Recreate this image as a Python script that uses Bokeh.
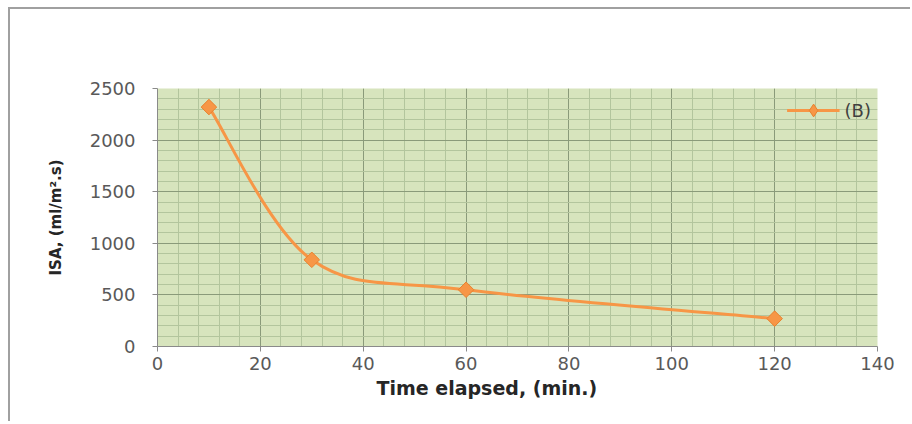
import numpy as np
from bokeh.plotting import figure
from bokeh.models import (Range1d, SingleIntervalTicker, Legend, LegendItem, Title)
from bokeh.embed import file_html
from bokeh.resources import INLINE

# data
time_min = [10, 30, 60, 120]
isa = [2320, 840, 550, 270]
series_name = "(B)"
x_title = "Time elapsed, (min.)"
y_title = "ISA, (ml/m\u00b2.s)"

W, H = 902, 414
p = figure(width=W, height=H, output_backend="svg", toolbar_location=None,
           x_range=Range1d(0, 140), y_range=Range1d(0, 2500),
           min_border_left=147, min_border_right=35, min_border_top=79,
           min_border_bottom=77, background_fill_color="#d7e4bd",
           border_fill_color="white", outline_line_color=None)
p.styles = {"margin-left": "8px", "margin-top": "7px",
            "border-left": "2px solid #a0a0a0", "border-top": "2px solid #a0a0a0"}

p.xaxis.ticker = SingleIntervalTicker(interval=20, num_minor_ticks=5)
p.yaxis.ticker = SingleIntervalTicker(interval=500, num_minor_ticks=5)

for ax in (p.xaxis[0], p.yaxis[0]):
    ax.axis_line_color = "#8a8a8a"
    ax.major_tick_line_color = "#8a8a8a"
    ax.major_tick_out = 5
    ax.major_tick_in = 0
    ax.minor_tick_out = 0
    ax.minor_tick_in = 0
    ax.major_label_text_font = "DejaVu Sans"
    ax.major_label_text_font_size = "18px"
    ax.major_label_text_color = "#595959"
p.xaxis.major_label_standoff = 5
p.yaxis.major_label_standoff = 17

p.yaxis.axis_label = y_title
p.yaxis.axis_label_text_font = "DejaVu Sans"
p.yaxis.axis_label_text_font_size = "15px"
p.yaxis.axis_label_text_font_style = "bold"
p.yaxis.axis_label_text_color = "#262626"
p.yaxis.axis_label_standoff = 22

p.grid.grid_line_color = "#8a9a7a"
p.grid.grid_line_width = 1
p.grid.minor_grid_line_color = "#b3c59d"
p.grid.minor_grid_line_width = 1

# smoothed line through the points (Catmull-Rom style Bezier control points)
xs = np.array(time_min, dtype=float)
ys = np.array(isa, dtype=float)
n = len(xs)
t = 1.0 / 6.0
x0, y0, x1, y1, cx0, cy0, cx1, cy1 = [], [], [], [], [], [], [], []
for i in range(n - 1):
    im = max(i - 1, 0)
    ip2 = min(i + 2, n - 1)
    x0.append(xs[i]); y0.append(ys[i])
    x1.append(xs[i + 1]); y1.append(ys[i + 1])
    cx0.append(xs[i] + (xs[i + 1] - xs[im]) * t)
    cy0.append(ys[i] + (ys[i + 1] - ys[im]) * t)
    cx1.append(xs[i + 1] - (xs[ip2] - xs[i]) * t)
    cy1.append(ys[i + 1] - (ys[ip2] - ys[i]) * t)

orange = "#f79646"
p.bezier(x0=x0, y0=y0, x1=x1, y1=y1, cx0=cx0, cy0=cy0, cx1=cx1, cy1=cy1,
         line_color=orange, line_width=3)
pts = p.scatter(time_min, isa, marker="square", angle=np.pi / 4, size=11,
                fill_color=orange, line_color="#e8822e", line_width=1)

# legend-only renderers (no visible data)
leg_line = p.line([np.nan], [np.nan], line_color=orange, line_width=3)
leg_mark = p.scatter([np.nan], [np.nan], marker="diamond", size=12,
                     fill_color=orange, line_color="#e8822e", line_width=1)

legend = Legend(items=[LegendItem(label=series_name, renderers=[leg_line, leg_mark])],
                location="top_right", margin=6, padding=0, glyph_width=53,
                glyph_height=32, label_standoff=5, border_line_color=None,
                background_fill_alpha=0, label_text_font="DejaVu Sans",
                label_text_font_size="18px", label_text_color="#404040",
                label_height=32)
p.add_layout(legend)

xt = Title(text=x_title, align="left", offset=219, standoff=4,
           text_font="DejaVu Sans", text_font_size="19px",
           text_font_style="bold", text_color="#262626")
p.add_layout(xt, "below")

open("out.html", "w").write(file_html(p, INLINE))
